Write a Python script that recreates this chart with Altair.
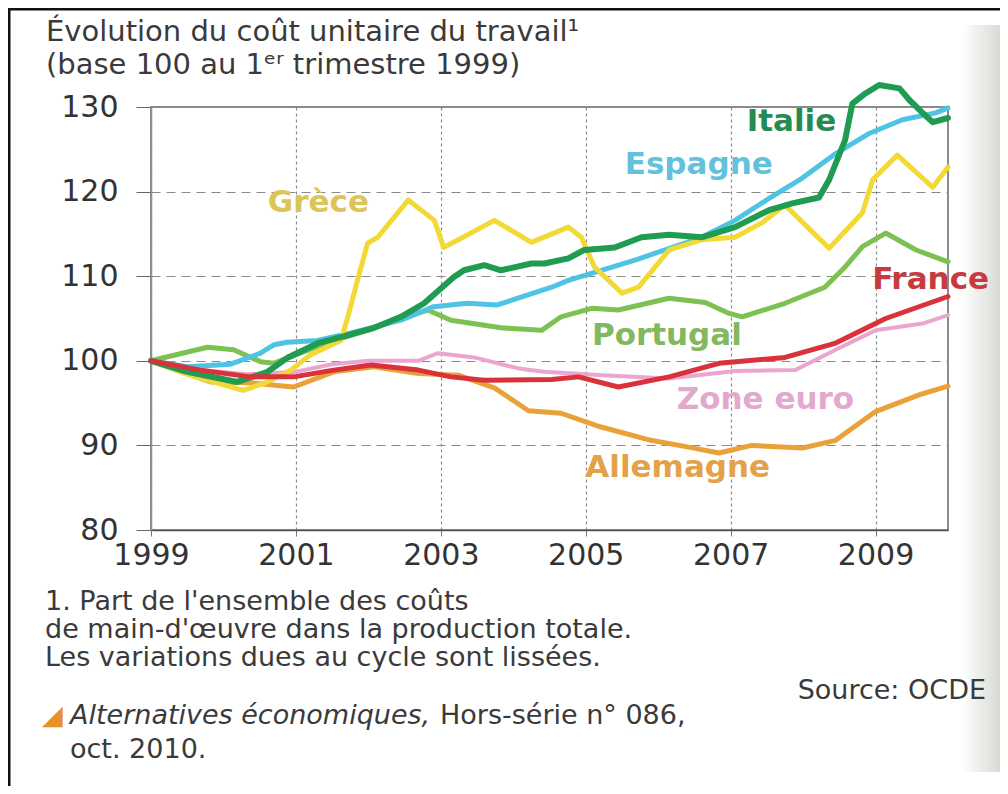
import altair as alt
import pandas as pd

# ---------------- data ----------------
grece_x = [1999.0, 1999.5, 2000.27, 2000.58, 2000.93, 2001.2, 2001.62, 2001.73, 2001.85, 2001.99, 2002.13,
           2002.55, 2002.91, 2003.04, 2003.74, 2004.25, 2004.76, 2004.94, 2005.12, 2005.5, 2005.73,
           2006.15, 2006.6, 2007.06, 2007.43, 2007.75, 2008.36, 2008.82, 2008.96, 2009.3, 2009.79, 2010.0]
grece_y = [100.0, 98.4, 96.5, 97.4, 98.9, 100.7, 102.4, 105.6, 109.5, 113.9, 114.6,
           119.0, 116.6, 113.4, 116.6, 114.0, 115.8, 114.6, 111.1, 108.0, 108.7,
           113.1, 114.3, 114.6, 116.3, 118.4, 113.3, 117.5, 121.4, 124.3, 120.5, 122.9]

italie_x = [1999.0, 1999.5, 2000.19, 2000.61, 2000.89, 2001.31, 2001.62, 2002.08, 2002.45, 2002.77,
            2003.18, 2003.32, 2003.6, 2003.83, 2004.25, 2004.43, 2004.76, 2004.98, 2005.4, 2005.77,
            2006.15, 2006.6, 2007.06, 2007.53, 2007.85, 2008.22, 2008.36, 2008.58, 2008.68, 2008.86,
            2009.05, 2009.33, 2009.47, 2009.65, 2009.79, 2010.0]
italie_y = [100.0, 98.7, 97.5, 98.7, 100.4, 102.1, 102.8, 103.9, 105.2, 106.8,
            109.9, 110.7, 111.3, 110.7, 111.5, 111.5, 112.1, 113.1, 113.4, 114.6,
            114.9, 114.6, 115.8, 117.8, 118.6, 119.3, 121.4, 126.1, 130.4, 131.6,
            132.6, 132.2, 130.8, 129.3, 128.2, 128.7]

espagne_x = [1999.0, 1999.5, 2000.1, 2000.51, 2000.7, 2000.88, 2001.3, 2001.76, 2002.45, 2002.9,
             2003.36, 2003.78, 2004.53, 2004.76, 2005.68, 2006.6, 2007.06, 2007.53, 2007.99, 2008.45,
             2008.92, 2009.37, 2009.83, 2010.0]
espagne_y = [100.0, 99.3, 99.6, 100.9, 101.9, 102.2, 102.4, 103.3, 104.8, 106.4,
             106.8, 106.6, 108.7, 109.5, 111.9, 114.6, 116.6, 119.2, 121.6, 124.5,
             126.9, 128.5, 129.3, 129.9]

portugal_x = [1999.0, 1999.78, 2000.14, 2000.51, 2000.69, 2001.06, 2001.52, 2001.99, 2002.45, 2002.82,
              2003.14, 2003.83, 2004.39, 2004.66, 2005.08, 2005.45, 2006.15, 2006.65, 2006.98, 2007.16,
              2007.75, 2008.3, 2008.58, 2008.82, 2009.14, 2009.56, 2010.0]
portugal_y = [100.0, 101.6, 101.3, 99.9, 99.7, 100.9, 102.4, 103.6, 105.0, 106.0,
              104.8, 103.9, 103.6, 105.2, 106.2, 106.0, 107.4, 106.9, 105.6, 105.2,
              106.8, 108.7, 111.1, 113.5, 115.1, 113.1, 111.7]

france_x = [1999.0, 1999.68, 2000.37, 2000.97, 2001.52, 2002.04, 2002.69, 2003.14, 2003.6, 2004.53,
            2004.9, 2005.45, 2006.15, 2006.84, 2007.75, 2008.45, 2009.14, 2010.0]
france_y = [100.0, 98.9, 98.1, 98.1, 98.9, 99.5, 98.9, 98.1, 97.7, 97.8,
            98.1, 96.9, 98.1, 99.7, 100.4, 102.1, 105.0, 107.6]

zone_x = [1999.0, 1999.6, 2000.3, 2001.0, 2001.5, 2002.0, 2002.69, 2002.96, 2003.46, 2004.07,
          2004.43, 2005.23, 2006.15, 2007.06, 2007.89, 2008.45, 2009.0, 2009.65, 2010.0]
zone_y = [100.0, 99.0, 98.4, 98.7, 99.6, 100.0, 100.0, 100.9, 100.4, 99.1,
          98.7, 98.3, 97.9, 98.8, 98.9, 101.3, 103.6, 104.4, 105.4]

allemagne_x = [1999.0, 1999.82, 2000.37, 2000.97, 2001.52, 2002.08, 2002.69, 2003.24, 2003.74, 2004.21,
               2004.66, 2005.2, 2005.9, 2006.42, 2006.84, 2007.29, 2007.99, 2008.45, 2009.0, 2009.61, 2010.0]
allemagne_y = [100.0, 97.5, 97.4, 96.9, 98.7, 99.3, 98.5, 98.3, 96.8, 94.1,
               93.8, 92.2, 90.6, 89.8, 89.1, 90.0, 89.7, 90.6, 94.0, 96.0, 97.0]

x_ticks = [1999, 2001, 2003, 2005, 2007, 2009]
y_ticks = [80, 90, 100, 110, 120, 130]

# drawing order (bottom to top)
series = [
    ("Zone euro", zone_x, zone_y),
    ("Allemagne", allemagne_x, allemagne_y),
    ("Portugal", portugal_x, portugal_y),
    ("Espagne", espagne_x, espagne_y),
    ("Grèce", grece_x, grece_y),
    ("Italie", italie_x, italie_y),
    ("France", france_x, france_y),
]

line_colors = {
    "Zone euro": "#eaa6cf", "Allemagne": "#e9a13a", "Portugal": "#7cc152",
    "Espagne": "#4fc3e3", "Grèce": "#f3d935", "Italie": "#1f9b52", "France": "#d9323a",
}
line_widths = {"Zone euro": 4, "Allemagne": 5, "Portugal": 5, "Espagne": 5,
               "Grèce": 5, "Italie": 6, "France": 5}
label_colors = {
    "Zone euro": "#e2a9cc", "Allemagne": "#e3a24a", "Portugal": "#82b85e",
    "Espagne": "#62c1dd", "Grèce": "#dcc45a", "Italie": "#248c50", "France": "#c73a3e",
}

# label anchors in data units (year, index)
label_names = ["Italie", "Espagne", "Grèce", "France", "Portugal", "Zone euro", "Allemagne"]
label_years = [2007.84, 2006.56, 2001.31, 2009.76, 2006.12, 2007.48, 2006.27]
label_values = [128.2, 123.1, 118.6, 109.5, 102.9, 95.4, 87.3]

FONT = "DejaVu Sans"
W, H = 797, 423

xscale = alt.Scale(domain=[1999, 2010], nice=False, zero=False)
yscale = alt.Scale(domain=[80, 130], nice=False, zero=False)

xaxis = alt.Axis(values=x_ticks, format="d", title=None, grid=True, gridDash=[3, 3],
                 gridColor="#8a8a8a", gridWidth=1.2, domainColor="#555", domainWidth=1.5,
                 tickSize=6, tickColor="#777", labelFont=FONT, labelFontSize=30,
                 labelColor="#333", labelPadding=4, labelFlush=False)
yaxis = alt.Axis(values=y_ticks, title=None, grid=True, gridDash=[9, 6],
                 gridColor="#8a8a8a", gridWidth=1.2, domainColor="#8890a8", domainWidth=1.5,
                 tickSize=15, tickColor="#666", labelFont=FONT, labelFontSize=30,
                 labelColor="#333", labelPadding=18)

X = alt.X("annee:Q", scale=xscale, axis=xaxis)
Y = alt.Y("indice:Q", scale=yscale, axis=yaxis)

layers = []
for name, xs, ys in series:
    df = pd.DataFrame({"annee": xs, "indice": ys, "pays": name})
    layers.append(
        alt.Chart(df).mark_line(color=line_colors[name], strokeWidth=line_widths[name],
                                strokeJoin="round", strokeCap="round", clip=False).encode(x=X, y=Y)
    )

lab_df = pd.DataFrame({"pays": label_names, "annee": label_years, "indice": label_values,
                       "couleur": [label_colors[n] for n in label_names]})
labels = alt.Chart(lab_df).mark_text(font=FONT, fontSize=31, fontWeight="bold",
                                     align="center", baseline="middle").encode(
    x=X, y=Y,
    text="pays:N",
    color=alt.Color("couleur:N", scale=None),
)

# page texts (positions relative to the plot origin)
def txt(s, x, y, size=28, align="left", color="#3a3a3a", style="normal", weight="normal"):
    return alt.Chart(pd.DataFrame({"t": [s]})).mark_text(
        font=FONT, fontSize=size, align=align, baseline="alphabetic", color=color,
        fontStyle=style, fontWeight=weight
    ).encode(text="t:N", x=alt.value(x), y=alt.value(y))

OX, OY = 151, 107  # page position of the plot origin
texts = [
    txt("Évolution du coût unitaire du travail¹", 46 - OX, 41 - OY, size=29),
    txt("(base 100 au 1ᵉʳ trimestre 1999)", 46 - OX, 74 - OY, size=29),
    txt("1. Part de l'ensemble des coûts", 45 - OX, 610 - OY, size=27),
    txt("de main-d'œuvre dans la production totale.", 45 - OX, 638 - OY, size=27),
    txt("Les variations dues au cycle sont lissées.", 45 - OX, 666 - OY, size=27),
    txt("Source: OCDE", 986 - OX, 699 - OY, size=27, align="right"),
    txt("◢", 42 - OX, 724 - OY, size=27, color="#e8902a"),
    txt("Alternatives économiques,", 70 - OX, 724 - OY, size=27, style="italic"),
    txt("Hors-série n° 086,", 440 - OX, 724 - OY, size=27),
    txt("oct. 2010.", 70 - OX, 758 - OY, size=27),
]

# faint page shadow on the right edge and the frame lines
shadow = alt.Chart(pd.DataFrame({"k": [0]})).mark_rect(
    color=alt.Gradient(gradient="linear",
                       stops=[alt.GradientStop(color="#ffffff", offset=0),
                              alt.GradientStop(color="#d7dbd4", offset=1)],
                       x1=0, x2=1, y1=0, y2=0)
).encode(x=alt.value(962 - OX), x2=alt.value(1000 - OX),
         y=alt.value(25 - OY), y2=alt.value(772 - OY))

frame_top = alt.Chart(pd.DataFrame({"k": [0]})).mark_rule(color="#111", strokeWidth=3).encode(
    x=alt.value(8 - OX), x2=alt.value(1000 - OX), y=alt.value(9 - OY))
frame_left = alt.Chart(pd.DataFrame({"k": [0]})).mark_rule(color="#111", strokeWidth=3).encode(
    x=alt.value(9 - OX), y=alt.value(8 - OY), y2=alt.value(786 - OY))

chart = alt.layer(shadow, *layers, labels, *texts, frame_top, frame_left).properties(
    width=W, height=H,
    autosize=alt.AutoSizeParams(type="none"),
    padding={"left": OX - 8, "top": OY - 8, "right": 1000 - (OX + W), "bottom": 786 - (OY + H)},
    background="white",
).configure_view(stroke="#666", strokeWidth=1.5)

chart.save("out.html", embed_options={"renderer": "svg", "actions": False})
